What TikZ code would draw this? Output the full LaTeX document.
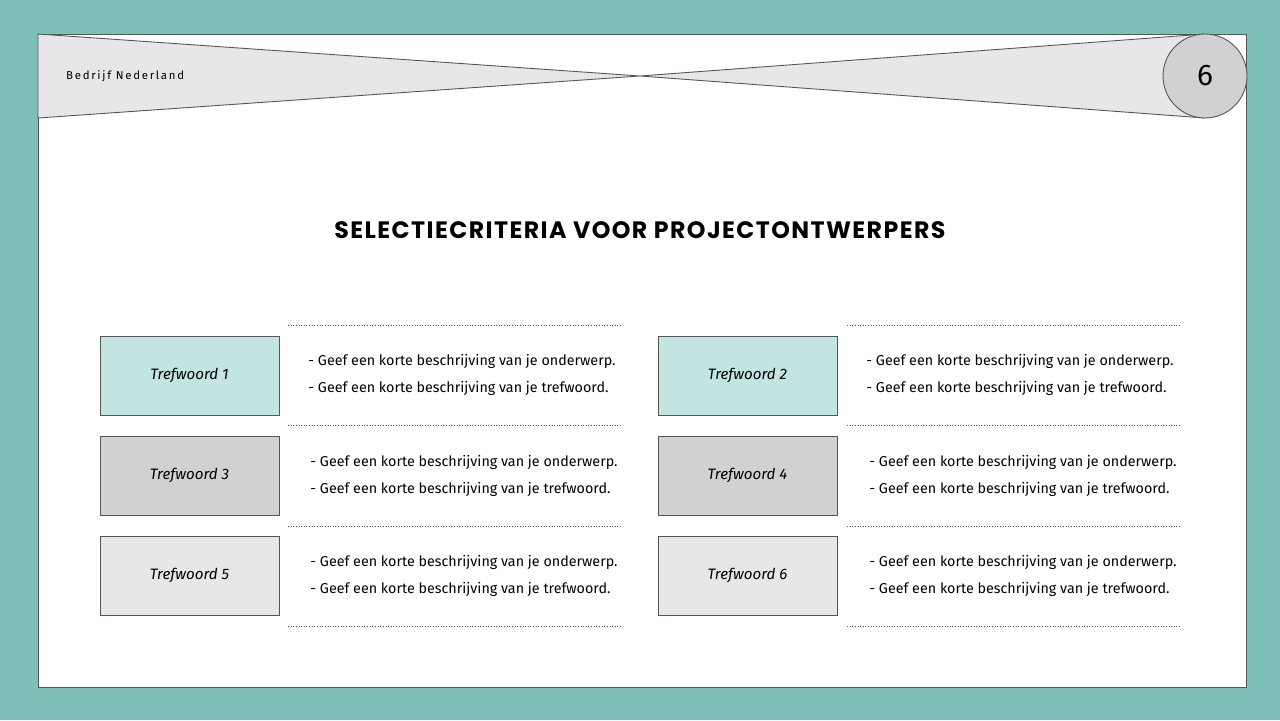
\documentclass[tikz,border=0pt]{standalone}
\usepackage{fontspec}
\setmainfont{Fira Sans}
\newfontfamily\titlefont{Poppins}
\definecolor{bgteal}{HTML}{7FBFBA}
\definecolor{lteal}{HTML}{C2E5E2}
\definecolor{mgray}{HTML}{D1D0D3}
\definecolor{lgray}{HTML}{E8E6E8}
\definecolor{edge}{HTML}{555555}
\begin{document}
\begin{tikzpicture}[x=0.02cm,y=-0.02cm,
  kbox/.style={draw=edge,line width=0.5pt,minimum width=3.58cm,minimum height=1.58cm,font=\fontsize{8.6}{10}\selectfont\itshape},
  desc/.style={align=left,font=\fontsize{8.15}{15.3}\selectfont},
  sep/.style={dash pattern=on 0.5pt off 1pt,draw=edge,line width=0.5pt}]
\fill[bgteal] (0,0) rectangle (1280,720);
\useasboundingbox (0,0) rectangle (1280,720);
\draw[edge,fill=white,line width=0.5pt] (38,34) rectangle (1246,687);
\draw[edge,fill=lgray,line width=0.5pt] (38,34) -- (640,76) -- (38,118) -- cycle;
\draw[edge,fill=lgray,line width=0.5pt] (640,76) -- (1205,34) -- (1205,118) -- cycle;
\node[circle,draw=edge,fill=mgray,minimum size=1.68cm,inner sep=0,line width=0.5pt,font=\fontsize{17}{17}\selectfont] (num) at (1205,76) {6};
\node[anchor=west,font=\fontsize{6.5}{8}\selectfont] (co) at (60,76) {\addfontfeature{LetterSpace=15}Bedrijf Nederland};
\node[font=\titlefont\bfseries\fontsize{13.5}{16}\selectfont] (title) at (640,230) {\addfontfeature{LetterSpace=6}SELECTIECRITERIA VOOR PROJECTONTWERPERS};
\foreach \y in {325,425,526,626}{
  \draw[sep] (288,\y) -- (621,\y);
  \draw[sep] (847,\y) -- (1180,\y);}
\node[kbox,fill=lteal] (k1) at (189.5,375.5) {Trefwoord 1};
\node[kbox,fill=lteal] (k2) at (747.5,375.5) {Trefwoord 2};
\node[kbox,fill=mgray] (k3) at (189.5,475.5) {Trefwoord 3};
\node[kbox,fill=mgray] (k4) at (747.5,475.5) {Trefwoord 4};
\node[kbox,fill=lgray] (k5) at (189.5,575.5) {Trefwoord 5};
\node[kbox,fill=lgray] (k6) at (747.5,575.5) {Trefwoord 6};
\foreach \n/\x/\y in {d1/462/375,d2/1020/375,d3/464/476,d4/1023/476,d5/464/576,d6/1023/576}{
  \node[desc] (\n) at (\x,\y) {- Geef een korte beschrijving van je onderwerp.\\- Geef een korte beschrijving van je trefwoord.};}
\end{tikzpicture}
\end{document}
